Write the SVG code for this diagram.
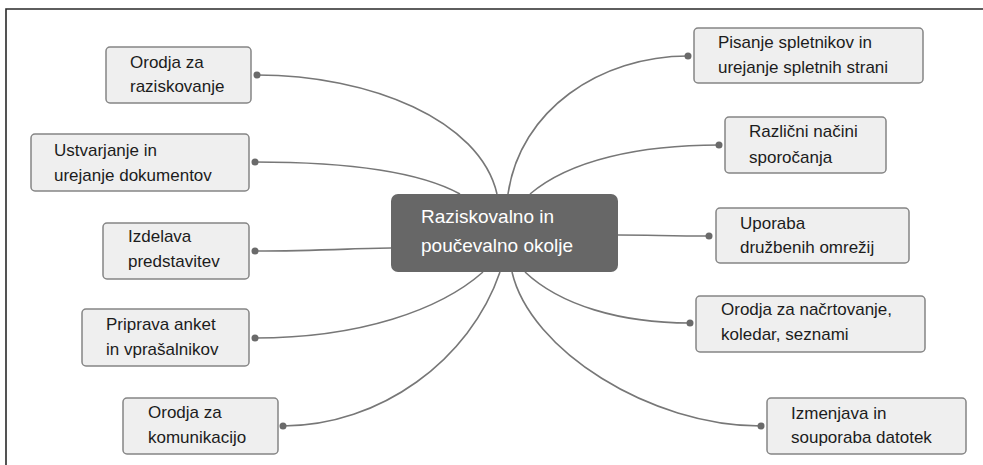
<svg xmlns="http://www.w3.org/2000/svg" width="983" height="465" viewBox="0 0 983 465">
<defs>
<style>
.node rect{fill:#efefef;stroke:#858585;stroke-width:1.5}
.node text{font-family:"Liberation Sans",Arial,sans-serif;font-size:17px;fill:#1c1c1c}
.center rect{fill:#676767;stroke:none}
.center text{font-family:"Liberation Sans",Arial,sans-serif;font-size:19px;fill:#ffffff}
.conn path{fill:none;stroke:#777;stroke-width:1.6}
.conn circle{fill:#6a6a6a}
.frame{fill:none;stroke:#2a2a2a;stroke-width:1.6}
</style>
</defs>
<rect width="983" height="465" fill="#ffffff"/>
<path class="frame" d="M6,465 L6,9 L983,9"/>

<g id="connectors" class="conn">
<path d="M257,75 C370,75 480,120 497,194"/>
<path d="M255,162 C350,162 420,172 460,194"/>
<path d="M255,251 C320,251 360,248 391,248"/>
<path d="M255,338 C360,338 440,310 483,272"/>
<path d="M283,426 C380,426 470,360 500,272"/>
<path d="M688,56 C600,56 520,110 508,194"/>
<path d="M719,145 C640,145 570,160 530,194"/>
<path d="M709,236 C670,236 650,235 618,235"/>
<path d="M690,323 C620,323 560,305 525,272"/>
<path d="M761,426 C650,426 530,350 512,272"/>
<circle cx="257" cy="75" r="3.5"/>
<circle cx="255" cy="162" r="3.5"/>
<circle cx="255" cy="251" r="3.5"/>
<circle cx="255" cy="338" r="3.5"/>
<circle cx="283" cy="426" r="3.5"/>
<circle cx="688" cy="56" r="3.5"/>
<circle cx="719" cy="145" r="3.5"/>
<circle cx="709" cy="236" r="3.5"/>
<circle cx="690" cy="323" r="3.5"/>
<circle cx="761" cy="426" r="3.5"/>
</g>

<g id="center" class="center">
<rect x="391" y="194" width="227" height="78" rx="7"/>
<text x="421" y="223">Raziskovalno in</text>
<text x="421" y="252">poučevalno okolje</text>
</g>

<g id="n-raziskovanje" class="node">
<rect x="106" y="47" width="145" height="56" rx="4"/>
<text x="130" y="68">Orodja za</text>
<text x="130" y="92">raziskovanje</text>
</g>
<g id="n-dokumenti" class="node">
<rect x="31" y="134" width="218" height="57" rx="4"/>
<text x="54" y="156">Ustvarjanje in</text>
<text x="54" y="181">urejanje dokumentov</text>
</g>
<g id="n-predstavitve" class="node">
<rect x="103" y="223" width="146" height="56" rx="4"/>
<text x="128" y="242">Izdelava</text>
<text x="128" y="267">predstavitev</text>
</g>
<g id="n-ankete" class="node">
<rect x="82" y="309" width="167" height="57" rx="4"/>
<text x="106" y="330">Priprava anket</text>
<text x="106" y="355">in vprašalnikov</text>
</g>
<g id="n-komunikacija" class="node">
<rect x="123" y="398" width="155" height="56" rx="4"/>
<text x="148" y="418">Orodja za</text>
<text x="148" y="443">komunikacijo</text>
</g>

<g id="n-spletniki" class="node">
<rect x="694" y="28" width="229" height="55" rx="4"/>
<text x="718" y="48">Pisanje spletnikov in</text>
<text x="718" y="73">urejanje spletnih strani</text>
</g>
<g id="n-sporocanje" class="node">
<rect x="725" y="117" width="161" height="56" rx="4"/>
<text x="749" y="137">Različni načini</text>
<text x="749" y="163">sporočanja</text>
</g>
<g id="n-omrezja" class="node">
<rect x="716" y="208" width="193" height="55" rx="4"/>
<text x="740" y="229">Uporaba</text>
<text x="740" y="253">družbenih omrežij</text>
</g>
<g id="n-nacrtovanje" class="node">
<rect x="696" y="296" width="229" height="56" rx="4"/>
<text x="721" y="315">Orodja za načrtovanje,</text>
<text x="721" y="340">koledar, seznami</text>
</g>
<g id="n-datoteke" class="node">
<rect x="767" y="398" width="199" height="56" rx="4"/>
<text x="791" y="419">Izmenjava in</text>
<text x="791" y="443">souporaba datotek</text>
</g>
</svg>
